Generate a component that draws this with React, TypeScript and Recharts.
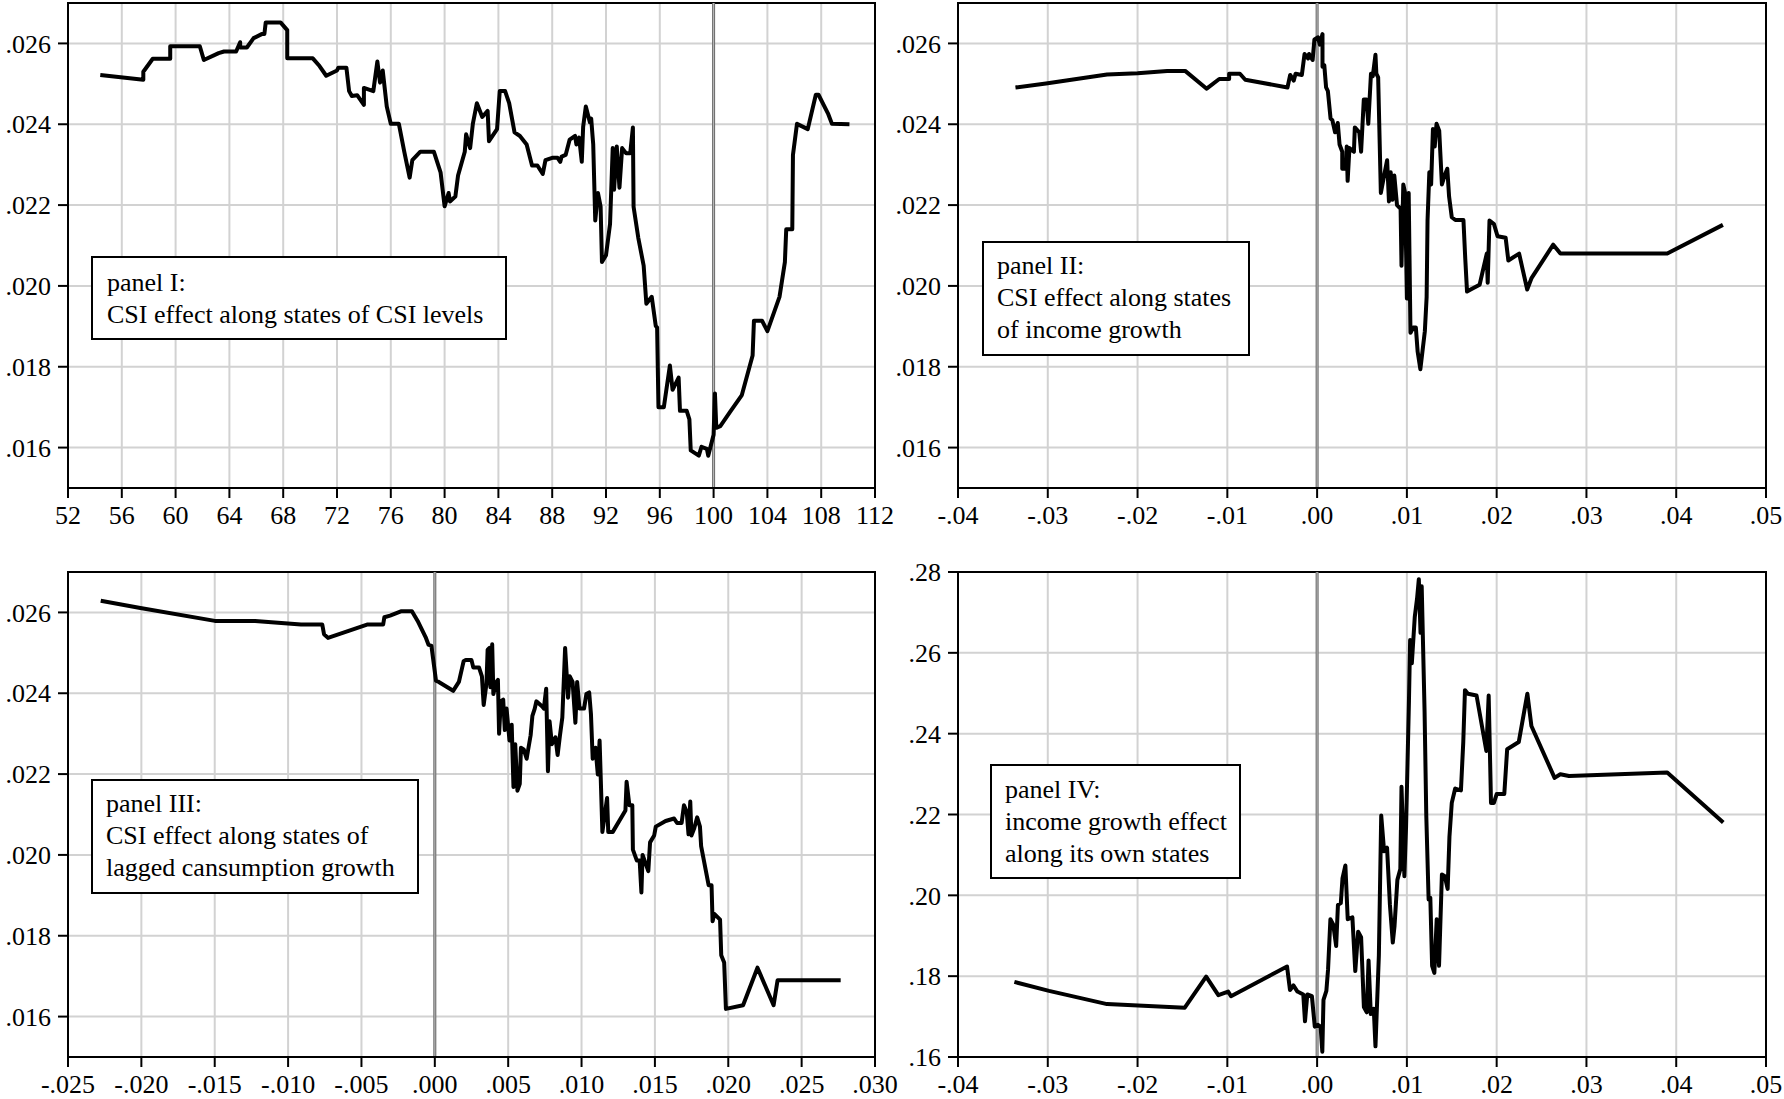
import React from 'react';
import { LineChart, Line, XAxis, YAxis, CartesianGrid, ReferenceLine, ReferenceArea } from 'recharts';

const FONT = "'Liberation Serif', 'Times New Roman', Times, serif";

// ---------- Panel I: CSI effect along states of CSI levels ----------
const p1X = [54.4, 57.6, 57.6, 58.3, 59.6, 59.6, 61.8, 62.1, 63.2, 63.6, 64.5, 64.8, 64.8, 65.3, 65.8, 66.4, 66.6, 66.7, 67.8, 68.3, 68.3, 70.2, 70.7, 71.2, 72.0, 72.1, 72.7, 72.9, 73.1, 73.5, 74.0, 74.0, 74.7, 75.0, 75.2, 75.4, 75.7, 76.0, 76.6, 77.0, 77.4, 77.6, 78.2, 79.2, 79.7, 80.0, 80.3, 80.4, 80.8, 81.0, 81.5, 81.6, 81.9, 82.1, 82.4, 82.8, 83.2, 83.3, 83.9, 84.1, 84.5, 84.8, 85.2, 85.6, 86.1, 86.5, 86.9, 87.3, 87.5, 88.0, 88.4, 88.6, 88.7, 89.0, 89.3, 89.7, 89.8, 90.0, 90.2, 90.3, 90.5, 90.8, 90.9, 91.0, 91.05, 91.2, 91.4, 91.6, 91.7, 92.0, 92.3, 92.5, 92.6, 92.8, 93.0, 93.2, 93.5, 93.8, 94.0, 94.05, 94.4, 94.8, 95.0, 95.4, 95.7, 95.8, 95.9, 96.3, 96.75, 96.95, 97.4, 97.5, 98.0, 98.2, 98.3, 98.9, 99.1, 99.5, 99.6, 100.0, 100.1, 100.2, 100.5, 101.2, 102.1, 102.9, 103.0, 103.6, 104.0, 104.9, 105.3, 105.4, 105.85, 105.9, 106.2, 107.0, 107.6, 107.8, 108.5, 108.8, 110.1];
const p1Y = [0.02522, 0.0251, 0.0253, 0.02562, 0.02562, 0.02593, 0.02593, 0.02559, 0.02576, 0.0258, 0.0258, 0.02603, 0.0259, 0.0259, 0.02613, 0.02623, 0.02623, 0.02652, 0.02652, 0.02633, 0.02563, 0.02563, 0.02544, 0.0252, 0.02533, 0.0254, 0.0254, 0.02482, 0.0247, 0.02472, 0.02448, 0.0249, 0.02482, 0.02555, 0.02503, 0.02533, 0.02444, 0.02401, 0.02401, 0.02332, 0.02268, 0.02311, 0.02332, 0.02332, 0.02281, 0.02197, 0.0223, 0.02209, 0.02221, 0.02273, 0.02332, 0.02375, 0.02341, 0.02401, 0.02452, 0.02418, 0.02433, 0.02358, 0.02388, 0.02482, 0.02482, 0.02452, 0.0238, 0.02371, 0.0235, 0.02298, 0.02298, 0.02277, 0.02311, 0.02317, 0.02317, 0.02307, 0.0232, 0.02324, 0.02362, 0.02371, 0.0235, 0.02367, 0.02307, 0.02393, 0.02444, 0.02405, 0.02414, 0.02371, 0.0235, 0.02162, 0.0223, 0.02196, 0.02059, 0.02076, 0.02153, 0.02341, 0.02238, 0.02345, 0.02243, 0.02341, 0.02328, 0.02328, 0.02392, 0.02196, 0.02119, 0.0205, 0.01956, 0.01973, 0.01901, 0.01897, 0.017, 0.017, 0.01803, 0.01743, 0.01773, 0.01691, 0.01691, 0.0167, 0.01593, 0.0158, 0.01602, 0.01597, 0.0158, 0.01632, 0.01734, 0.01649, 0.01653, 0.01687, 0.0173, 0.01828, 0.01914, 0.01914, 0.01888, 0.01973, 0.02059, 0.0214, 0.0214, 0.02324, 0.02401, 0.02388, 0.02473, 0.02473, 0.02427, 0.02401, 0.024];

// ---------- Panel II: CSI effect along states of income growth ----------
const p2X = [-0.0336, -0.0302, -0.0234, -0.02, -0.0167, -0.0147, -0.0123, -0.0109, -0.0098, -0.0098, -0.0086, -0.008, -0.0033, -0.003, -0.0026, -0.0024, -0.0017, -0.0014, -0.001, -0.0009, -0.0005, -0.0003, 0.0001, 0.0003, 0.0006, 0.0006, 0.0008, 0.001, 0.0012, 0.0015, 0.0017, 0.002, 0.0023, 0.0025, 0.0028, 0.0028, 0.0032, 0.0033, 0.0034, 0.0036, 0.0041, 0.0042, 0.0047, 0.0049, 0.0052, 0.0055, 0.0057, 0.006, 0.0062, 0.0065, 0.0066, 0.0068, 0.0071, 0.0075, 0.0078, 0.008, 0.0082, 0.0084, 0.0086, 0.0089, 0.0093, 0.0094, 0.0096, 0.0098, 0.01, 0.0102, 0.0104, 0.0107, 0.011, 0.0112, 0.0115, 0.012, 0.0122, 0.0123, 0.0125, 0.0127, 0.0129, 0.0131, 0.0133, 0.0136, 0.0139, 0.0142, 0.0145, 0.0147, 0.015, 0.0154, 0.0163, 0.0165, 0.0167, 0.0171, 0.0181, 0.0189, 0.019, 0.0192, 0.0197, 0.0201, 0.021, 0.0213, 0.0225, 0.0234, 0.0239, 0.0263, 0.0271, 0.039, 0.0452];
const p2Y = [0.02491, 0.02501, 0.02523, 0.02526, 0.02532, 0.02532, 0.02488, 0.02512, 0.02512, 0.02525, 0.02525, 0.0251, 0.02491, 0.02522, 0.02508, 0.02525, 0.02522, 0.02574, 0.02563, 0.02574, 0.02559, 0.0261, 0.02615, 0.02597, 0.02623, 0.02542, 0.02546, 0.02491, 0.02482, 0.02414, 0.0241, 0.0238, 0.02403, 0.0235, 0.02332, 0.0229, 0.0229, 0.02345, 0.0226, 0.02341, 0.02332, 0.02392, 0.0238, 0.02332, 0.02461, 0.02461, 0.02401, 0.02525, 0.02519, 0.02572, 0.02525, 0.02516, 0.0223, 0.02277, 0.02311, 0.02209, 0.02281, 0.02213, 0.02273, 0.022, 0.02191, 0.0205, 0.02251, 0.0223, 0.01969, 0.0223, 0.01884, 0.01897, 0.01897, 0.01837, 0.01794, 0.01888, 0.01973, 0.02162, 0.02281, 0.02251, 0.02388, 0.02345, 0.02401, 0.02384, 0.02251, 0.02273, 0.0229, 0.02221, 0.0217, 0.02163, 0.02163, 0.02068, 0.01986, 0.01991, 0.02003, 0.0208, 0.02008, 0.02162, 0.02153, 0.02123, 0.02119, 0.02063, 0.0208, 0.01991, 0.0202, 0.02102, 0.0208, 0.0208, 0.02151];

// ---------- Panel III: CSI effect along states of lagged consumption growth ----------
const p3X = [-0.02277, -0.02007, -0.01499, -0.01225, -0.00912, -0.00767, -0.00755, -0.00728, -0.00462, -0.00352, -0.00344, -0.00305, -0.00227, -0.00156, -0.00117, -0.00063, -0.00043, -0.00023, 0.00008, 0.00027, 0.00125, 0.00164, 0.00196, 0.00211, 0.0025, 0.00262, 0.00301, 0.00321, 0.00333, 0.00352, 0.0036, 0.00372, 0.00379, 0.00391, 0.00399, 0.00419, 0.0043, 0.00438, 0.0045, 0.00466, 0.00477, 0.00489, 0.00509, 0.00524, 0.00536, 0.00548, 0.00563, 0.00579, 0.00587, 0.00606, 0.00626, 0.00634, 0.00653, 0.00665, 0.00681, 0.00692, 0.00732, 0.00743, 0.00759, 0.00771, 0.00782, 0.00798, 0.00822, 0.00837, 0.00853, 0.00869, 0.00888, 0.00908, 0.00919, 0.00939, 0.00958, 0.0097, 0.00986, 0.01017, 0.01033, 0.01052, 0.01064, 0.01076, 0.01095, 0.01111, 0.01123, 0.01142, 0.01174, 0.01182, 0.01213, 0.01299, 0.01307, 0.01326, 0.01346, 0.0135, 0.01377, 0.01396, 0.01408, 0.01416, 0.01455, 0.01467, 0.01495, 0.01506, 0.01573, 0.01631, 0.01651, 0.01682, 0.01698, 0.01717, 0.01729, 0.01741, 0.01749, 0.01768, 0.01788, 0.01807, 0.01815, 0.01866, 0.01886, 0.01893, 0.01905, 0.01944, 0.01952, 0.01972, 0.01984, 0.02101, 0.02199, 0.02309, 0.02336, 0.02766];
const p3Y = [0.02629, 0.02611, 0.02579, 0.02579, 0.0257, 0.0257, 0.02546, 0.02537, 0.0257, 0.0257, 0.02588, 0.02592, 0.02603, 0.02603, 0.02579, 0.02539, 0.0252, 0.02517, 0.02431, 0.02428, 0.02406, 0.02428, 0.02479, 0.02482, 0.02482, 0.02464, 0.02464, 0.02442, 0.02371, 0.02424, 0.02508, 0.02512, 0.02415, 0.02521, 0.02398, 0.02428, 0.02433, 0.023, 0.0238, 0.02384, 0.02309, 0.02362, 0.02283, 0.02322, 0.02168, 0.02274, 0.02159, 0.02176, 0.02265, 0.02261, 0.02238, 0.02256, 0.02296, 0.02344, 0.02362, 0.0238, 0.02367, 0.02362, 0.02411, 0.02207, 0.02331, 0.02274, 0.02291, 0.02247, 0.02296, 0.0234, 0.02512, 0.02389, 0.02442, 0.02428, 0.02327, 0.02428, 0.02362, 0.02362, 0.02398, 0.02402, 0.02349, 0.02238, 0.02265, 0.02199, 0.02283, 0.02057, 0.02141, 0.02057, 0.02057, 0.0211, 0.02181, 0.02123, 0.02123, 0.02013, 0.01986, 0.01986, 0.01907, 0.02, 0.0196, 0.02031, 0.02048, 0.0207, 0.02084, 0.0209, 0.02079, 0.02079, 0.02123, 0.02106, 0.02051, 0.02132, 0.02048, 0.02066, 0.02093, 0.0207, 0.02022, 0.01925, 0.01925, 0.01836, 0.01854, 0.0184, 0.01752, 0.01734, 0.01619, 0.01628, 0.01721, 0.01628, 0.0169, 0.0169];

// ---------- Panel IV: income growth effect along its own states ----------
const p4X = [-0.03372, -0.02986, -0.0234, -0.01474, -0.01236, -0.011, -0.00991, -0.00959, -0.00335, -0.00302, -0.00264, -0.00219, -0.00154, -0.00135, -0.00109, -0.00058, -0.00026, 0.00006, 0.00039, 0.00058, 0.00071, 0.00103, 0.00122, 0.00148, 0.0018, 0.00212, 0.00232, 0.00264, 0.00283, 0.00315, 0.00341, 0.00393, 0.00425, 0.00457, 0.0049, 0.00521, 0.00553, 0.00573, 0.00598, 0.00631, 0.0065, 0.00688, 0.00714, 0.00746, 0.00779, 0.00811, 0.00843, 0.00862, 0.00894, 0.00927, 0.0094, 0.00972, 0.00991, 0.01023, 0.01036, 0.01055, 0.01088, 0.01113, 0.01133, 0.01152, 0.01165, 0.01197, 0.01216, 0.01242, 0.01261, 0.01281, 0.01306, 0.01332, 0.01358, 0.0139, 0.01422, 0.01454, 0.01474, 0.015, 0.01538, 0.01602, 0.01628, 0.01647, 0.0168, 0.01776, 0.01885, 0.01911, 0.01937, 0.01969, 0.02001, 0.02085, 0.02117, 0.02246, 0.02342, 0.02387, 0.02645, 0.02709, 0.02806, 0.039, 0.04524];
const p4Y = [0.17858, 0.17636, 0.17309, 0.17221, 0.17991, 0.17531, 0.17619, 0.17504, 0.18239, 0.17655, 0.1777, 0.17619, 0.17548, 0.16884, 0.17548, 0.17504, 0.16751, 0.16796, 0.16751, 0.16131, 0.17415, 0.17636, 0.18168, 0.19408, 0.19273, 0.18744, 0.19763, 0.19807, 0.20427, 0.20737, 0.19408, 0.19453, 0.18125, 0.19099, 0.18966, 0.17238, 0.17105, 0.1839, 0.17061, 0.17194, 0.16264, 0.18522, 0.21976, 0.21091, 0.21179, 0.19763, 0.18833, 0.19231, 0.20383, 0.20649, 0.22686, 0.20471, 0.21711, 0.24811, 0.26317, 0.25741, 0.26893, 0.27336, 0.27823, 0.26494, 0.27646, 0.24545, 0.21976, 0.19896, 0.1994, 0.18257, 0.1808, 0.19408, 0.18257, 0.20516, 0.20471, 0.2016, 0.21445, 0.22287, 0.22642, 0.22597, 0.23793, 0.25077, 0.24989, 0.24945, 0.23571, 0.24945, 0.22287, 0.22287, 0.22509, 0.22509, 0.23616, 0.23793, 0.24989, 0.24191, 0.22907, 0.22996, 0.22951, 0.2304, 0.218];

// ---------- Axis ticks ----------
const p1XTicks = [52, 56, 60, 64, 68, 72, 76, 80, 84, 88, 92, 96, 100, 104, 108, 112];
const incXTicks = [-0.04, -0.03, -0.02, -0.01, 0, 0.01, 0.02, 0.03, 0.04, 0.05];
const p3XTicks = [-0.025, -0.02, -0.015, -0.01, -0.005, 0, 0.005, 0.01, 0.015, 0.02, 0.025, 0.03];
const csiYTicks = [0.016, 0.018, 0.02, 0.022, 0.024, 0.026];
const p4YTicks = [0.16, 0.18, 0.2, 0.22, 0.24, 0.26, 0.28];

// ---------- Panel labels ----------
const p1Label = ['panel I:', 'CSI effect along states of CSI levels'];
const p2Label = ['panel II:', 'CSI effect along states', 'of income growth'];
const p3Label = ['panel III:', 'CSI effect along states of', 'lagged cansumption growth'];
const p4Label = ['panel IV:', 'income growth effect', 'along its own states'];

const zip = (xs: number[], ys: number[]) => xs.map((x, i) => ({ x, y: ys[i] }));

const dec = (digits: number) => (v: number) => {
  const s = Math.abs(v) < 1e-12 ? (0).toFixed(digits) : v.toFixed(digits);
  return s.replace(/^(-?)0\./, '$1.');
};
const intFmt = (v: number) => String(Math.round(v));

const tickStyle = { fill: '#000', fontSize: 26, fontFamily: FONT };

type PanelProps = {
  data: { x: number; y: number }[];
  xDomain: [number, number];
  yDomain: [number, number];
  xTicks: number[];
  yTicks: number[];
  xFmt: (v: number) => string;
  yFmt: (v: number) => string;
  refX: number;
  left: number;
  top: number;
  width: number;
  height: number;
  margin: { top: number; right: number; bottom: number; left: number };
};

function Panel(p: PanelProps) {
  return (
    <div style={{ position: 'absolute', left: p.left, top: p.top, width: p.width, height: p.height }}>
      <LineChart width={p.width} height={p.height} data={p.data} margin={p.margin}>
        <CartesianGrid stroke="#d2d2d2" strokeWidth={2} />
        <XAxis
          type="number"
          dataKey="x"
          domain={p.xDomain}
          ticks={p.xTicks}
          interval={0}
          allowDataOverflow
          tickFormatter={p.xFmt}
          tick={tickStyle}
          tickLine={{ stroke: '#000', strokeWidth: 2 }}
          axisLine={{ stroke: '#000', strokeWidth: 2 }}
          tickSize={10}
          tickMargin={8}
          height={40}
        />
        <YAxis
          type="number"
          domain={p.yDomain}
          ticks={p.yTicks}
          interval={0}
          allowDataOverflow
          tickFormatter={p.yFmt}
          tick={tickStyle}
          tickLine={{ stroke: '#000', strokeWidth: 2 }}
          axisLine={{ stroke: '#000', strokeWidth: 2 }}
          tickSize={10}
          tickMargin={7}
          width={60}
        />
        <ReferenceLine x={p.refX} stroke="#6a6a6a" strokeWidth={3} />
        <ReferenceLine x={p.refX} stroke="#bdbdbd" strokeWidth={1} />
        <Line
          type="linear"
          dataKey="y"
          stroke="#000"
          strokeWidth={4}
          strokeLinejoin="round"
          dot={false}
          activeDot={false}
          isAnimationActive={false}
        />
        <ReferenceArea
          x1={p.xDomain[0]}
          x2={p.xDomain[1]}
          y1={p.yDomain[0]}
          y2={p.yDomain[1]}
          fill="none"
          fillOpacity={0}
          stroke="#000"
          strokeWidth={2}
        />
      </LineChart>
    </div>
  );
}

function LabelBox(props: { lines: string[]; left: number; top: number; width: number; height: number; padTop: number; padLeft: number }) {
  return (
    <div
      style={{
        position: 'absolute',
        left: props.left,
        top: props.top,
        width: props.width,
        height: props.height,
        boxSizing: 'border-box',
        border: '2px solid #000',
        background: '#fff',
        paddingTop: props.padTop,
        paddingLeft: props.padLeft,
        fontFamily: FONT,
        fontSize: 26,
        lineHeight: '32px',
        color: '#000',
        whiteSpace: 'nowrap',
      }}
    >
      {props.lines.map((l, i) => (
        <div key={i}>{l}</div>
      ))}
    </div>
  );
}

export default function App() {
  const topMargin = { top: 3, right: 25, bottom: 12, left: 8 };
  const topMarginR = { top: 3, right: 18, bottom: 12, left: 18 };
  const botMargin = { top: 32, right: 25, bottom: 2, left: 8 };
  const botMarginR = { top: 32, right: 18, bottom: 2, left: 18 };
  return (
    <div style={{ position: 'absolute', left: 0, top: 0, width: 1784, height: 1099, background: '#fff', overflow: 'hidden' }}>
      <Panel data={zip(p1X, p1Y)} xDomain={[52, 112]} yDomain={[0.015, 0.027]} xTicks={p1XTicks} yTicks={csiYTicks}
        xFmt={intFmt} yFmt={dec(3)} refX={100} left={0} top={0} width={900} height={540} margin={topMargin} />
      <Panel data={zip(p2X, p2Y)} xDomain={[-0.04, 0.05]} yDomain={[0.015, 0.027]} xTicks={incXTicks} yTicks={csiYTicks}
        xFmt={dec(2)} yFmt={dec(3)} refX={0} left={880} top={0} width={904} height={540} margin={topMarginR} />
      <Panel data={zip(p3X, p3Y)} xDomain={[-0.025, 0.03]} yDomain={[0.015, 0.027]} xTicks={p3XTicks} yTicks={csiYTicks}
        xFmt={dec(3)} yFmt={dec(3)} refX={0} left={0} top={540} width={900} height={559} margin={botMargin} />
      <Panel data={zip(p4X, p4Y)} xDomain={[-0.04, 0.05]} yDomain={[0.16, 0.28]} xTicks={incXTicks} yTicks={p4YTicks}
        xFmt={dec(2)} yFmt={dec(2)} refX={0} left={880} top={540} width={904} height={559} margin={botMarginR} />
      <LabelBox lines={p1Label} left={91} top={256} width={416} height={84} padTop={9} padLeft={14} />
      <LabelBox lines={p2Label} left={982} top={241} width={268} height={115} padTop={7} padLeft={13} />
      <LabelBox lines={p3Label} left={91} top={779} width={328} height={115} padTop={7} padLeft={13} />
      <LabelBox lines={p4Label} left={990} top={764} width={251} height={115} padTop={8} padLeft={13} />
    </div>
  );
}
